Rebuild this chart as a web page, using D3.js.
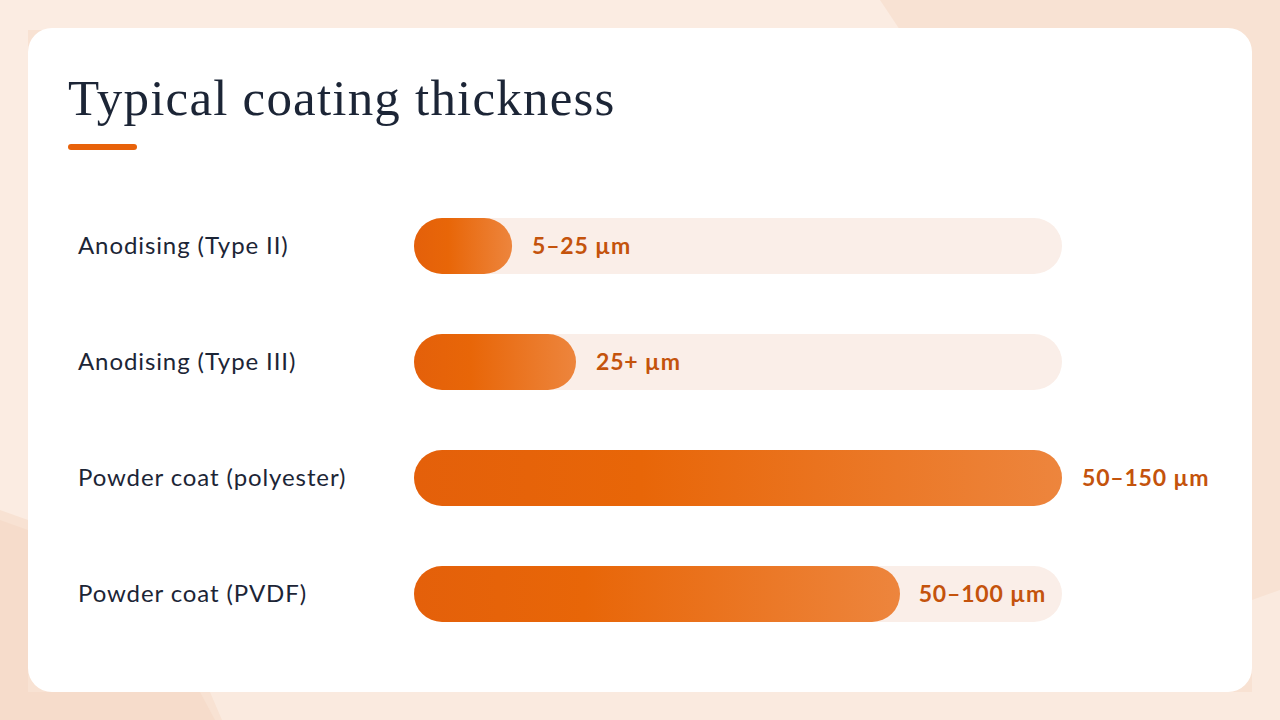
<!DOCTYPE html>
<html><head><meta charset="utf-8">
<script src="https://cdn.jsdelivr.net/npm/d3@7"></script>
<style>body{margin:0;background:#f8e2d3;}</style>
</head><body><div id="root"></div>
<script>
// Chart data
const categories = ['Anodising (Type II)', 'Anodising (Type III)', 'Powder coat (polyester)', 'Powder coat (PVDF)'];
const values = [22.7, 37.5, 150, 112.5];
const valueLabels = ['5–25 µm', '25+ µm', '50–150 µm', '50–100 µm'];
const maxValue = 150;

const W = 1280, H = 720;
const svg = d3.select('#root').append('svg').attr('width', W).attr('height', H);

// Background decoration
svg.append('rect').attr('width', W).attr('height', H).attr('fill', '#f8e2d3');
svg.append('path').attr('d', 'M0,0 H880 L900,30 H28 V520 L0,510 Z').attr('fill', '#fbece2');
svg.append('path').attr('d', 'M0,520 L28,530 V692 H200 L215,720 H0 Z').attr('fill', '#f6dccb');
svg.append('path').attr('d', 'M210,692 H1252 V600 L1280,590 V720 H222 Z').attr('fill', '#faeadf');

// Card
svg.append('rect').attr('x', 28).attr('y', 28).attr('width', 1224).attr('height', 664)
  .attr('rx', 24).attr('fill', '#ffffff');

// Title
svg.append('text').attr('x', 68).attr('y', 115)
  .style('font-family', 'Liberation Serif, DejaVu Serif, serif').style('font-size', '51px')
  .style('letter-spacing', '1.2px')
  .attr('fill', '#1c2536').text('Typical coating thickness');
svg.append('rect').attr('x', 68).attr('y', 144).attr('width', 69).attr('height', 6)
  .attr('rx', 3).attr('fill', '#e8620a');

const defs = svg.append('defs');
const grad = defs.append('linearGradient').attr('id', 'barGrad');
grad.append('stop').attr('offset', '0%').attr('stop-color', '#e4600a');
grad.append('stop').attr('offset', '35%').attr('stop-color', '#e86608');
grad.append('stop').attr('offset', '100%').attr('stop-color', '#ed853d');

const x = d3.scaleLinear().domain([0, maxValue]).range([414, 1062]);
const y = d3.scaleBand().domain(categories).range([218, 622]).paddingInner(60 / 116).paddingOuter(0);
const bh = y.bandwidth();

const g = svg.selectAll('.row').data(categories).enter().append('g').attr('class', 'row');

g.append('text').attr('x', 78).attr('y', d => y(d) + bh / 2).attr('dy', '0.35em')
  .style('font-family', 'Lato, "Open Sans", sans-serif').style('font-size', '24px')
  .style('letter-spacing', '0.9px')
  .attr('fill', '#1c2536').text(d => d);

g.append('rect').attr('x', x(0)).attr('y', d => y(d)).attr('width', x(maxValue) - x(0))
  .attr('height', bh).attr('rx', bh / 2).attr('fill', '#faeee8');

g.append('rect').attr('x', x(0)).attr('y', d => y(d)).attr('width', (d, i) => x(values[i]) - x(0))
  .attr('height', bh).attr('rx', bh / 2).attr('fill', 'url(#barGrad)');

g.append('text')
  .attr('x', (d, i) => {
    if (values[i] >= maxValue) return x(values[i]) + 20;
    if (values[i] > maxValue * 0.6) return x(maxValue) - 16;
    return x(values[i]) + 20;
  })
  .attr('text-anchor', (d, i) => (values[i] > maxValue * 0.6 && values[i] < maxValue) ? 'end' : 'start')
  .attr('y', d => y(d) + bh / 2).attr('dy', '0.35em')
  .style('font-family', 'Lato, "Open Sans", sans-serif').style('font-size', '23px').style('font-weight', 'bold')
  .style('letter-spacing', '0.8px')
  .attr('fill', '#c4530c').text((d, i) => valueLabels[i]);
</script></body></html>
